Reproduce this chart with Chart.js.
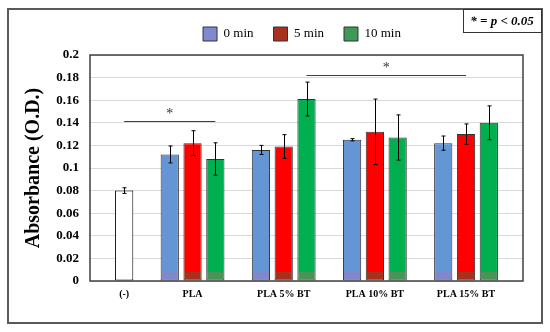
<!DOCTYPE html>
<html>
<head>
<meta charset="utf-8">
<script src="https://cdn.jsdelivr.net/npm/chart.js@4.4.0/dist/chart.umd.min.js"></script>
<style>
  html, body { margin: 0; padding: 0; background: #fff; }
</style>
</head>
<body>
<canvas id="graph" width="550" height="332"></canvas>
<script>
// data
const categories = ["(-)", "PLA", "PLA 5% BT", "PLA 10% BT", "PLA 15% BT"];
const seriesNames = ["(-)", "0 min", "5 min", "10 min"];
const control = [0.080, null, null, null, null];
const min0 = [null, 0.112, 0.116, 0.125, 0.122];
const min5 = [null, 0.122, 0.119, 0.132, 0.130];
const min10 = [null, 0.108, 0.161, 0.127, 0.140];
const controlErr = [0.0025, null, null, null, null];
const err0 = [null, 0.0075, 0.004, 0.001, 0.0063];
const err5 = [null, 0.011, 0.0105, 0.029, 0.009];
const err10 = [null, 0.0143, 0.015, 0.020, 0.015];
const yTicks = [0, 0.02, 0.04, 0.06, 0.08, 0.1, 0.12, 0.14, 0.16, 0.18, 0.2];
// significance brackets: [category, series index] -> [category, series index]
const sigFrom = [["(-)", 0], ["PLA 5% BT", 3]];
const sigTo = [["PLA", 3], ["PLA 15% BT", 2]];
const sigLevel = [0.1415, 0.182];
const sigText = ["*", "*"];

const FONT = "'Liberation Serif', 'Times New Roman', serif";
const fills = ["#ffffff", "#6496d6", "#ff0000", "#00b050"];
const fillsLow = ["#ffffff", "#8088cc", "#a8301c", "#4a9458"];
const legendFills = ["#ffffff", "#7f88d0", "#a8301c", "#3f9a58"];

// one slot per bar, with an empty slot between the groups
const allSeries = [control, min0, min5, min10];
const allErr = [controlErr, err0, err5, err10];
const slotLabels = [""];
const slotData = allSeries.map(() => [null]);
const slotErr = allSeries.map(() => [null]);
const slotOf = {};
function pushSlot(label, k, c) {
  slotLabels.push(label);
  allSeries.forEach((s, m) => {
    slotData[m].push(m === k ? s[c] : null);
    slotErr[m].push(m === k ? allErr[m][c] : null);
  });
}
categories.forEach((cat, c) => {
  const used = allSeries.map((s, k) => k).filter(k => allSeries[k][c] != null);
  used.forEach((k, j) => {
    slotOf[cat + "|" + k] = slotLabels.length;
    pushSlot(j === Math.floor(used.length / 2) ? cat : "", k, c);
  });
  pushSlot("", -1, c);
});

function barFill(k) {
  return (ctx) => {
    const ca = ctx.chart.chartArea;
    if (!ca || k === 0) return fills[k];
    const g = ctx.chart.ctx.createLinearGradient(0, ca.top, 0, ca.bottom);
    const f = (ca.bottom - 9 - ca.top) / (ca.bottom - ca.top);
    g.addColorStop(0, fills[k]);
    g.addColorStop(f, fills[k]);
    g.addColorStop(f, fillsLow[k]);
    g.addColorStop(1, fillsLow[k]);
    return g;
  };
}

const frame = {
  id: "frame",
  beforeDraw(chart) {
    const c = chart.ctx;
    c.save();
    c.fillStyle = "#fff";
    c.fillRect(0, 0, chart.width, chart.height);
    c.restore();
  },
  afterDraw(chart) {
    const c = chart.ctx;
    const ca = chart.chartArea;
    c.save();
    c.strokeStyle = "#404040";
    c.lineWidth = 1.5;
    c.strokeRect(ca.left, ca.top, ca.right - ca.left, ca.bottom - ca.top);
    c.strokeStyle = "#595959";
    c.lineWidth = 2;
    c.strokeRect(8, 9, 534, 314);
    c.lineWidth = 1;
    c.strokeStyle = "#333";
    c.strokeRect(463.5, 9.5, 78, 23);
    c.fillStyle = "#000";
    c.font = "bold italic 13px " + FONT;
    c.textAlign = "center";
    c.textBaseline = "middle";
    c.fillText("* = p < 0.05", 502, 22);
    c.restore();
  }
};

const errorBars = {
  id: "errorBars",
  afterDatasetsDraw(chart) {
    const c = chart.ctx;
    const y = chart.scales.y;
    c.save();
    c.strokeStyle = "#000";
    c.lineWidth = 1;
    chart.data.datasets.forEach((ds, i) => {
      const meta = chart.getDatasetMeta(i);
      ds.data.forEach((v, j) => {
        const e = slotErr[i][j];
        if (v == null || e == null) return;
        const x = Math.round(meta.data[j].x) + 0.5;
        const yt = y.getPixelForValue(v + e);
        const yb = y.getPixelForValue(v - e);
        c.beginPath();
        c.moveTo(x, yt); c.lineTo(x, yb);
        c.moveTo(x - 2, yt); c.lineTo(x + 2, yt);
        c.moveTo(x - 2, yb); c.lineTo(x + 2, yb);
        c.stroke();
      });
    });
    c.restore();
  }
};

const significance = {
  id: "significance",
  afterDraw(chart) {
    const c = chart.ctx;
    const y = chart.scales.y;
    c.save();
    c.strokeStyle = "#404040";
    c.lineWidth = 1;
    c.fillStyle = "#333";
    c.font = "14px " + FONT;
    c.textAlign = "center";
    c.textBaseline = "middle";
    sigLevel.forEach((lv, i) => {
      const a = sigFrom[i], b = sigTo[i];
      const x1 = chart.getDatasetMeta(a[1]).data[slotOf[a[0] + "|" + a[1]]].x;
      const x2 = chart.getDatasetMeta(b[1]).data[slotOf[b[0] + "|" + b[1]]].x;
      const py = Math.round(y.getPixelForValue(lv)) + 0.5;
      c.beginPath();
      c.moveTo(x1, py); c.lineTo(x2, py);
      c.stroke();
      c.fillText(sigText[i], (x1 + x2) / 2, py - 7);
    });
    c.restore();
  }
};

// a bit more room under the legend, and nudge it left
const legendGap = {
  id: "legendGap",
  afterInit(chart) {
    const fit = chart.legend.fit;
    chart.legend.fit = function () {
      fit.call(this);
      this.height += 4;
      if (this.lineWidths) this.lineWidths[0] += 9;
    };
  }
};

new Chart(document.getElementById("graph"), {
  type: "bar",
  data: {
    labels: slotLabels,
    datasets: allSeries.map((s, k) => ({
      label: seriesNames[k],
      data: slotData[k],
      backgroundColor: barFill(k),
      borderColor: k === 0 ? "#000" : "#333",
      borderWidth: 1,
      borderSkipped: false,
      grouped: false,
      categoryPercentage: 1,
      barPercentage: 0.8
    }))
  },
  options: {
    responsive: false,
    animation: false,
    layout: { padding: { top: 7, right: 27, bottom: 0, left: 0 } },
    plugins: {
      tooltip: { enabled: false },
      legend: {
        position: "top",
        fullSize: false,
        labels: {
          color: "#000",
          font: { family: FONT, size: 13 },
          boxWidth: 14,
          boxHeight: 14,
          padding: 20,
          generateLabels: chart => chart.data.datasets.map((d, i) => ({
            text: d.label,
            fillStyle: legendFills[i],
            strokeStyle: "#333",
            lineWidth: 1,
            datasetIndex: i,
            hidden: false
          })).filter(it => it.datasetIndex > 0)
        }
      }
    },
    scales: {
      x: {
        grid: { display: false, drawTicks: false },
        border: { display: false },
        afterFit: s => { s.height = 51; },
        ticks: {
          autoSkip: false,
          minRotation: 0,
          maxRotation: 0,
          padding: 7,
          color: "#000",
          font: { family: FONT, size: 10, weight: "bold" }
        }
      },
      y: {
        min: 0,
        max: 0.2,
        afterFit: s => { s.width = 90; },
        afterBuildTicks: s => { s.ticks = yTicks.map(v => ({ value: v })); },
        grid: { color: "#d9d9d9", drawTicks: false },
        border: { display: false },
        ticks: {
          padding: 11,
          color: "#000",
          font: { family: FONT, size: 13, weight: "bold" },
          callback: v => String(+v.toFixed(2))
        },
        title: {
          display: true,
          text: "Absorbance (O.D.)",
          color: "#000",
          font: { family: FONT, size: 20, weight: "bold" },
          padding: { top: 22, bottom: 0 }
        }
      }
    }
  },
  plugins: [frame, errorBars, significance, legendGap]
});
</script>
</body>
</html>
